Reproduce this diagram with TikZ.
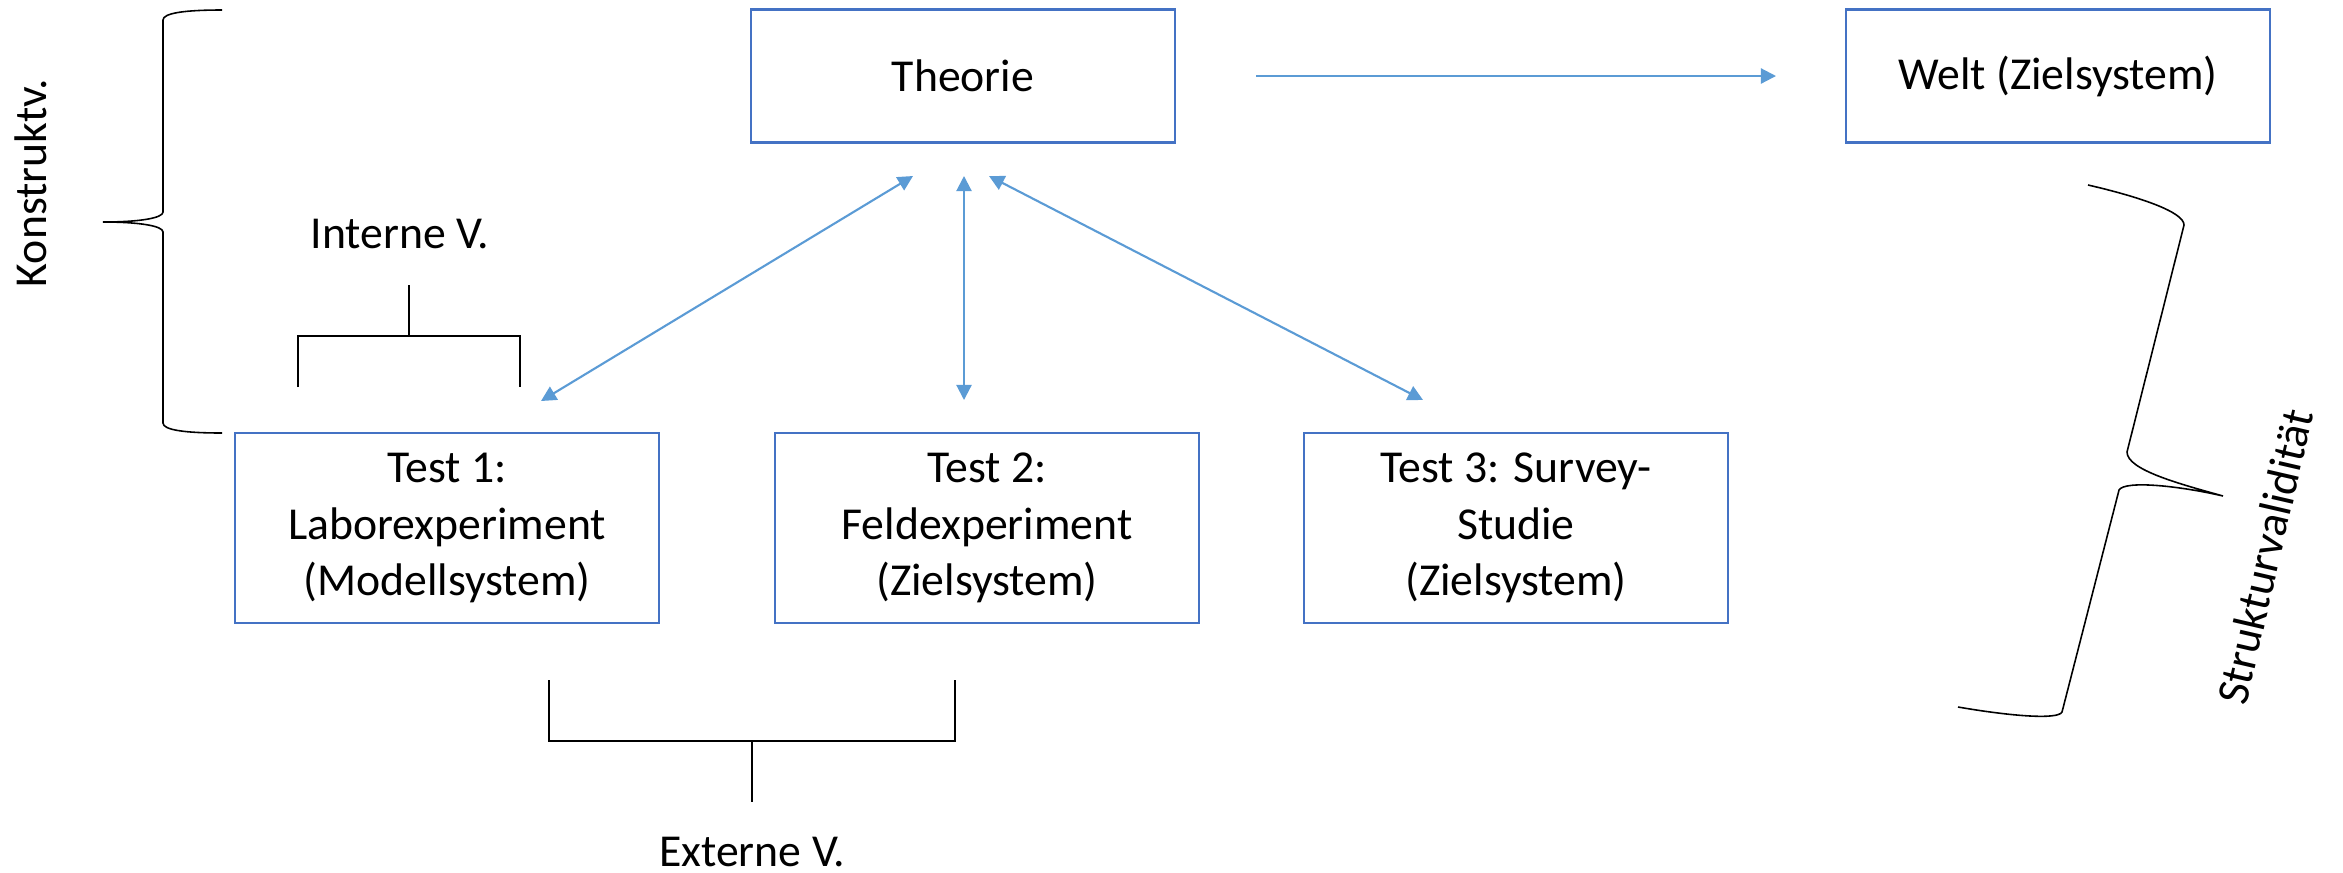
\documentclass[tikz,border=0pt]{standalone}
\usepackage{fontspec}
\setmainfont{Carlito}
\usepackage{tikz}
\usetikzlibrary{arrows.meta}
\definecolor{boxblue}{HTML}{4472C4}
\definecolor{arrblue}{HTML}{5B9BD5}
\tikzstyle{box} = [draw=boxblue, line width=0.75pt, minimum width=4.24cm, align=center, inner sep=0pt]
\tikzstyle{es} = [color=arrblue, line width=0.6pt, -{Triangle[length=4.3pt,width=4.3pt]}]
\tikzstyle{ees} = [color=arrblue, line width=0.6pt, {Triangle[length=4.3pt,width=4.3pt]}-{Triangle[length=4.3pt,width=4.3pt]}]
\tikzstyle{brk} = [draw=black, line width=0.45pt]

\begin{document}
\begin{tikzpicture}[x=0.01cm,y=-0.01cm,font=\fontsize{13}{16}\selectfont]
			\useasboundingbox (0,0) rectangle (2343,872);
			\node[box, minimum height=1.33cm] (theorie) at (963,76) {Theorie};
			\node[box, minimum height=1.33cm] (welt) at (2058,76) {Welt (Zielsystem)};
			\node[box, minimum height=1.90cm] (test1) at (447,528) {Test 1:\\Laborexperiment\\(Modellsystem)};
			\node[box, minimum height=1.90cm] (test2) at (987,528) {Test 2:\\Feldexperiment\\(Zielsystem)};
			\node[box, minimum height=1.90cm] (test3) at (1516,528) {Test 3: Survey-\\Studie\\(Zielsystem)};
			\coordinate (h1) at (1256,76);
			\coordinate (h2) at (1776,76);
			\draw [es] (h1) -- (h2);
			\coordinate (v1) at (913,176);
			\coordinate (v2) at (541,401);
			\coordinate (v3) at (964,176);
			\coordinate (v4) at (964,400);
			\coordinate (v5) at (989,176);
			\coordinate (v6) at (1423,400);
			\draw [ees] (v1) -- (v2);
			\draw [ees] (v3) -- (v4);
			\draw [ees] (v5) -- (v6);
			% interne / externe
			\node[anchor=base] (intv) at (400,248) {Interne V.};
			\draw [brk] (298,387) -- (298,336) -- (520,336) -- (520,387);
			\draw [brk] (409,336) -- (409,285);
			\node[anchor=base, inner sep=0pt] (extv) at (752,866) {Externe V.};
			\draw [brk] (549,680) -- (549,741) -- (955,741) -- (955,680);
			\draw [brk] (752,741) -- (752,802);
			% klammern
			\node[rotate=90, anchor=base] (konstr) at (47,183) {Konstruktv.};
			\draw [brk] (222,10) .. controls (185,10) and (163,13) .. (163,20) -- (163,212) .. controls (163,218) and (140,222) .. (103,222) .. controls (140,222) and (163,226) .. (163,232) -- (163,423) .. controls (163,430) and (185,433) .. (222,433);
			\node[rotate=77, anchor=base] (struk) at (2280,560) {Strukturvalidität};
			\draw [brk] (2088,185) .. controls (2140,197) and (2184,212) .. (2184,225) -- (2127,452) .. controls (2127,470) and (2180,484) .. (2223,496) .. controls (2180,486) and (2125,480) .. (2119,490) -- (2062,712) .. controls (2058,720) and (2010,716) .. (1958,707);
		\end{tikzpicture}
\end{document}
